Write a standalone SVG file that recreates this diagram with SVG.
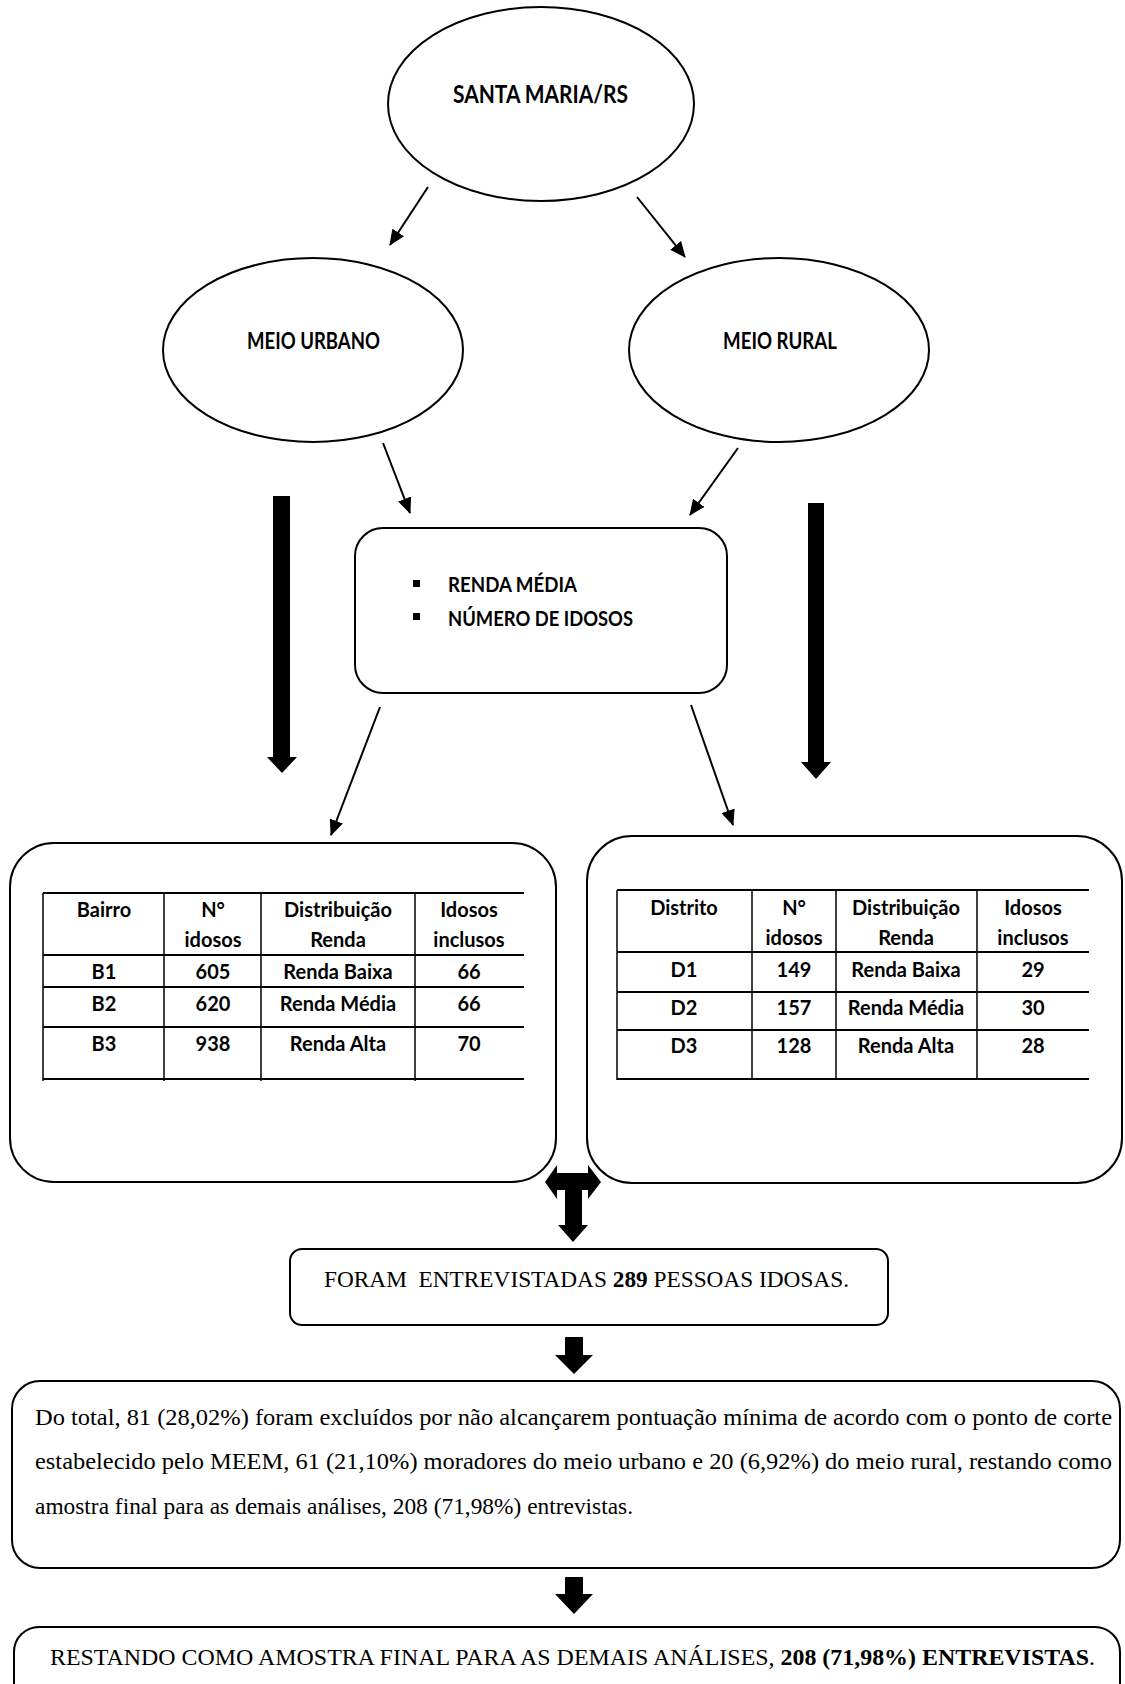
<svg xmlns="http://www.w3.org/2000/svg" width="1125" height="1684" viewBox="0 0 1125 1684">
<style>
.node{fill:#fff;stroke:#000;stroke-width:2}
.lbl{font-family:Lato,"Open Sans",sans-serif;font-weight:bold;fill:#000}
.tbl{font-family:Lato,"Open Sans",sans-serif;font-weight:bold;font-size:20px;text-anchor:middle;fill:#000}
.serif{font-family:"Liberation Serif","Times New Roman",serif;fill:#000}
.conn{stroke:#000;stroke-width:2;fill:none}
.blk{fill:#000;stroke:none}
.hl{stroke:#000;stroke-width:2}
.vl{stroke:#000;stroke-width:1.5}
</style>
<defs>
<marker id="ah" markerUnits="userSpaceOnUse" markerWidth="16" markerHeight="14" refX="15" refY="7" orient="auto" viewBox="0 0 16 14">
<path d="M0,0 L16,7 L0,14 z" fill="#000"/>
</marker>
</defs>
<rect width="1125" height="1684" fill="#fff"/>

<g id="santa-maria">
<ellipse class="node" cx="541" cy="104" rx="153" ry="97"/>
<text class="lbl" x="453" y="103" font-size="24" textLength="175" lengthAdjust="spacingAndGlyphs">SANTA MARIA/RS</text>
</g>

<g id="meio-urbano">
<ellipse class="node" cx="313" cy="350" rx="150" ry="92"/>
<text class="lbl" x="247" y="349" font-size="22" textLength="133" lengthAdjust="spacingAndGlyphs">MEIO URBANO</text>
</g>

<g id="meio-rural">
<ellipse class="node" cx="779" cy="350" rx="150" ry="92"/>
<text class="lbl" x="723" y="349" font-size="22" textLength="114" lengthAdjust="spacingAndGlyphs">MEIO RURAL</text>
</g>

<g id="criterios">
<rect class="node" x="355" y="528" width="372" height="165" rx="28" ry="28"/>
<rect class="blk" x="413" y="580" width="7" height="7"/>
<rect class="blk" x="413" y="613" width="7" height="7"/>
<text class="lbl" x="448" y="592" font-size="21" textLength="129" lengthAdjust="spacingAndGlyphs">RENDA MÉDIA</text>
<text class="lbl" x="448" y="626" font-size="21" textLength="185" lengthAdjust="spacingAndGlyphs">NÚMERO DE IDOSOS</text>
</g>

<g id="bairros">
<rect class="node" x="10" y="843" width="546" height="339" rx="44" ry="44"/>
<line class="hl" x1="43" y1="893" x2="524" y2="893"/>
<line class="hl" x1="43" y1="955" x2="524" y2="955"/>
<line class="hl" x1="43" y1="987" x2="524" y2="987"/>
<line class="hl" x1="43" y1="1027" x2="524" y2="1027"/>
<line class="hl" x1="43" y1="1079" x2="524" y2="1079"/>
<line class="vl" x1="43" y1="893" x2="43" y2="1081"/>
<line class="vl" x1="164" y1="893" x2="164" y2="1081"/>
<line class="vl" x1="261" y1="893" x2="261" y2="1081"/>
<line class="vl" x1="415" y1="893" x2="415" y2="1081"/>
<text class="tbl" x="104" y="917">Bairro</text>
<text class="tbl" x="213" y="917">N°</text>
<text class="tbl" x="213" y="947">idosos</text>
<text class="tbl" x="338" y="917">Distribuição</text>
<text class="tbl" x="338" y="947">Renda</text>
<text class="tbl" x="469" y="917">Idosos</text>
<text class="tbl" x="469" y="947">inclusos</text>
<text class="tbl" x="104" y="979">B1</text>
<text class="tbl" x="213" y="979">605</text>
<text class="tbl" x="338" y="979">Renda Baixa</text>
<text class="tbl" x="469" y="979">66</text>
<text class="tbl" x="104" y="1011">B2</text>
<text class="tbl" x="213" y="1011">620</text>
<text class="tbl" x="338" y="1011">Renda Média</text>
<text class="tbl" x="469" y="1011">66</text>
<text class="tbl" x="104" y="1051">B3</text>
<text class="tbl" x="213" y="1051">938</text>
<text class="tbl" x="338" y="1051">Renda Alta</text>
<text class="tbl" x="469" y="1051">70</text>
</g>

<g id="distritos">
<rect class="node" x="587" y="836" width="535" height="347" rx="45" ry="45"/>
<line class="hl" x1="617" y1="890" x2="1089" y2="890"/>
<line class="hl" x1="617" y1="952" x2="1089" y2="952"/>
<line class="hl" x1="617" y1="992" x2="1089" y2="992"/>
<line class="hl" x1="617" y1="1030" x2="1089" y2="1030"/>
<line class="hl" x1="617" y1="1079" x2="1089" y2="1079"/>
<line class="vl" x1="617" y1="890" x2="617" y2="1080"/>
<line class="vl" x1="752" y1="890" x2="752" y2="1080"/>
<line class="vl" x1="836" y1="890" x2="836" y2="1080"/>
<line class="vl" x1="977" y1="890" x2="977" y2="1080"/>
<text class="tbl" x="684" y="915">Distrito</text>
<text class="tbl" x="794" y="915">N°</text>
<text class="tbl" x="794" y="945">idosos</text>
<text class="tbl" x="906" y="915">Distribuição</text>
<text class="tbl" x="906" y="945">Renda</text>
<text class="tbl" x="1033" y="915">Idosos</text>
<text class="tbl" x="1033" y="945">inclusos</text>
<text class="tbl" x="684" y="977">D1</text>
<text class="tbl" x="794" y="977">149</text>
<text class="tbl" x="906" y="977">Renda Baixa</text>
<text class="tbl" x="1033" y="977">29</text>
<text class="tbl" x="684" y="1015">D2</text>
<text class="tbl" x="794" y="1015">157</text>
<text class="tbl" x="906" y="1015">Renda Média</text>
<text class="tbl" x="1033" y="1015">30</text>
<text class="tbl" x="684" y="1053">D3</text>
<text class="tbl" x="794" y="1053">128</text>
<text class="tbl" x="906" y="1053">Renda Alta</text>
<text class="tbl" x="1033" y="1053">28</text>
</g>

<g id="entrevistadas">
<rect class="node" x="290" y="1249" width="598" height="76" rx="12" ry="12"/>
<text class="serif" x="324" y="1287" font-size="23.3" style="white-space:pre">FORAM  ENTREVISTADAS <tspan font-weight="bold">289</tspan> PESSOAS IDOSAS.</text>
</g>

<g id="exclusao">
<rect class="node" x="12" y="1381" width="1108" height="187" rx="28" ry="28"/>
<text class="serif" x="35" y="1425" font-size="24" textLength="1077" lengthAdjust="spacingAndGlyphs">Do total, 81 (28,02%) foram excluídos por não alcançarem pontuação mínima de acordo com o ponto de corte</text>
<text class="serif" x="35" y="1469" font-size="24" textLength="1077" lengthAdjust="spacingAndGlyphs">estabelecido pelo MEEM, 61 (21,10%) moradores do meio urbano e 20 (6,92%) do meio rural, restando como</text>
<text class="serif" x="35" y="1514" font-size="24" textLength="598" lengthAdjust="spacingAndGlyphs">amostra final para as demais análises, 208 (71,98%) entrevistas.</text>
</g>

<g id="amostra-final">
<rect class="node" x="14" y="1627" width="1106" height="90" rx="25" ry="25" stroke-width="3"/>
<text class="serif" x="50" y="1665" font-size="23.5" textLength="1045" lengthAdjust="spacingAndGlyphs">RESTANDO COMO AMOSTRA FINAL PARA AS DEMAIS ANÁLISES, <tspan font-weight="bold">208 (71,98%) ENTREVISTAS</tspan>.</text>
</g>

<g id="connectors">
<line class="conn" x1="428" y1="187" x2="390" y2="245" marker-end="url(#ah)"/>
<line class="conn" x1="637" y1="197" x2="685" y2="257" marker-end="url(#ah)"/>
<line class="conn" x1="383" y1="443" x2="410" y2="513" marker-end="url(#ah)"/>
<line class="conn" x1="738" y1="448" x2="690" y2="515" marker-end="url(#ah)"/>
<line class="conn" x1="380" y1="707" x2="331" y2="835" marker-end="url(#ah)"/>
<line class="conn" x1="691" y1="705" x2="733" y2="825" marker-end="url(#ah)"/>
<polygon class="blk" points="273,496 290,496 290,757 297,757 282,773 267,757 273,757"/>
<polygon class="blk" points="808,503 824,503 824,762 831,762 816,779 801,762 808,762"/>
<polygon class="blk" points="545,1182 557,1165 557,1173 588,1173 588,1165 601,1182 588,1199 588,1190 582,1190 582,1225 588,1225 573,1242 558,1225 565,1225 565,1190 557,1190 557,1199"/>
<polygon class="blk" points="565,1337 583,1337 583,1355 593,1355 574,1374 555,1355 565,1355"/>
<polygon class="blk" points="565,1577 583,1577 583,1594 593,1594 574,1614 555,1594 565,1594"/>
</g>
</svg>
